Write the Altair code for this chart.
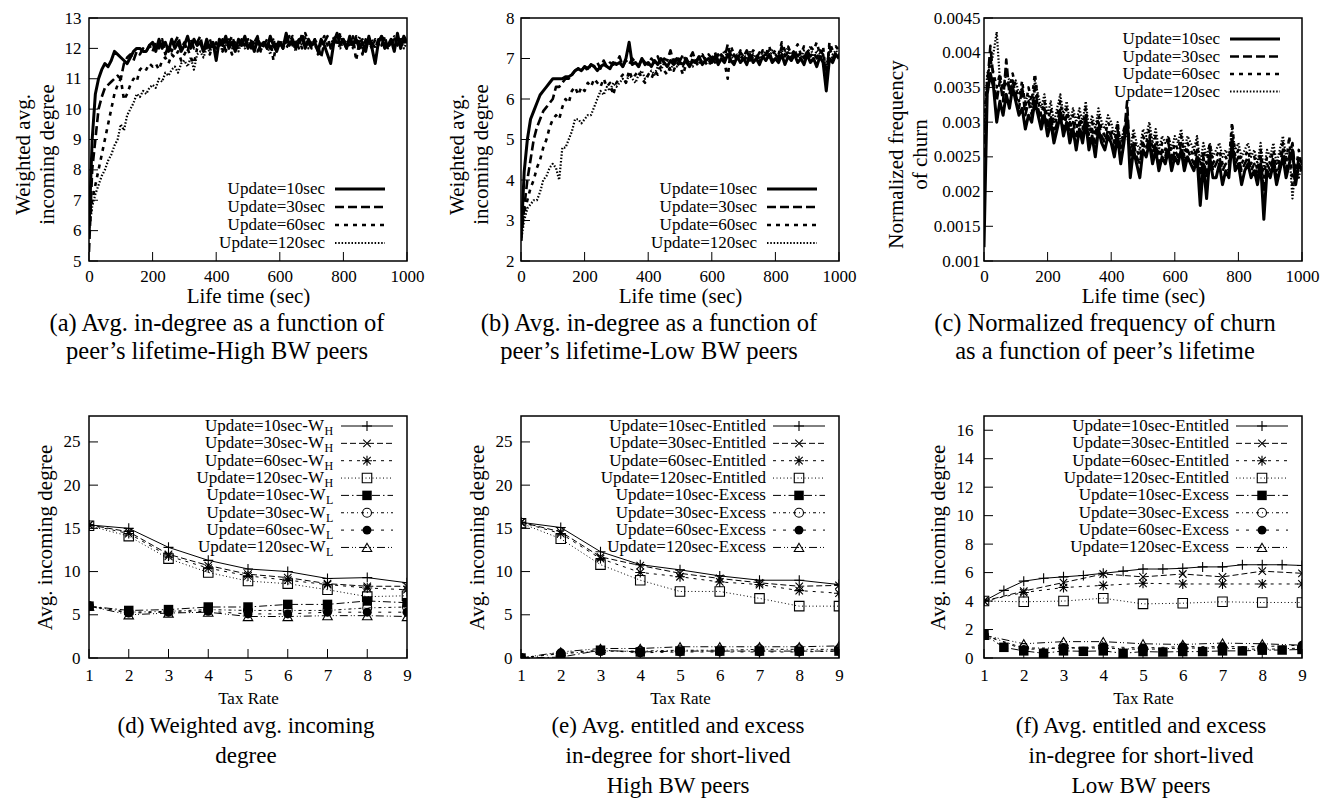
import altair as alt
import pandas as pd

FONT = "'Liberation Serif', 'Times New Roman', Times, serif"

# ---------------- data: top row (life time, step 10 s) ----------------
LIFE_T = list(range(0, 1001, 10))
TOP_NAMES = ["Update=10sec", "Update=30sec", "Update=60sec", "Update=120sec"]

A_10 = [6.0, 9.0, 10.5, 11.0, 11.3, 11.5, 11.4, 11.6, 11.9, 11.8,
        11.7, 11.6, 11.5, 11.7, 11.9, 12.0, 12.0, 11.9, 11.9, 12.1,
        12.2, 11.9, 12.3, 12.0, 12.2, 11.9, 12.3, 12.0, 12.2, 11.9,
        12.1, 12.4, 12.0, 12.3, 12.1, 12.2, 11.9, 12.3, 12.0, 12.2,
        11.6, 12.3, 12.1, 12.4, 12.0, 12.2, 11.9, 12.3, 12.1, 12.4,
        12.0, 12.2, 11.9, 12.3, 12.1, 12.2, 12.0, 12.4, 12.1, 11.9,
        12.2, 12.0, 12.5, 12.1, 12.3, 12.0, 12.2, 12.4, 12.0, 12.3,
        12.1, 12.2, 11.9, 12.3, 12.1, 11.8, 11.5, 12.2, 12.5, 12.1,
        12.3, 12.0, 12.4, 12.1, 12.3, 12.0, 12.2, 11.9, 12.4, 12.0,
        11.5, 12.2, 12.4, 12.0, 12.1, 12.3, 11.9, 12.5, 12.0, 12.4,
        12.2]
A_30 = [5.3, 8.0, 9.0, 10.0, 10.4, 10.7, 10.8, 10.9, 11.0, 11.1,
        11.0, 11.5, 11.7, 11.8, 11.6, 11.9, 11.8, 12.0, 11.9, 12.1,
        11.9, 12.2, 12.0, 12.3, 11.8, 12.1, 11.9, 12.2, 12.4, 12.0,
        12.2, 11.9, 12.3, 12.0, 12.2, 12.4, 11.9, 12.1, 12.3, 12.0,
        12.2, 12.0, 12.3, 11.9, 12.2, 12.4, 12.1, 12.0, 12.3, 12.1,
        12.3, 12.0, 12.2, 12.4, 11.9, 12.1, 12.3, 12.0, 12.2, 12.1,
        12.3, 12.0, 12.2, 12.4, 12.1, 12.3, 12.0, 12.5, 12.1, 12.2,
        12.0, 12.3, 12.1, 11.7, 12.2, 12.4, 12.0, 12.3, 12.1, 12.4,
        12.2, 12.0, 12.3, 12.1, 12.4, 12.2, 11.8, 12.3, 12.1, 12.2,
        12.0, 12.3, 12.1, 12.4, 12.0, 12.2, 12.3, 12.1, 12.4, 12.2,
        12.3]
A_60 = [6.0, 7.0, 7.5, 8.0, 8.5, 9.0, 9.5, 10.0, 10.5, 10.8,
        11.0, 10.3, 10.5, 10.8, 11.0, 10.9, 11.3, 11.4, 11.3, 11.5,
        11.4, 11.5, 11.3, 11.6, 11.7, 11.5, 11.8, 11.7, 11.9, 11.6,
        11.8, 12.0, 11.7, 11.5, 12.0, 12.2, 11.9, 12.1, 11.8, 12.2,
        12.0, 12.2, 11.9, 12.3, 12.1, 11.8, 12.2, 12.0, 12.3, 12.1,
        12.2, 12.0, 12.3, 11.9, 12.1, 12.2, 12.0, 12.3, 11.6, 12.2,
        12.1, 12.3, 12.0, 12.2, 12.4, 12.1, 12.3, 12.0, 12.5, 12.2,
        12.1, 12.3, 11.8, 12.2, 12.4, 12.1, 12.0, 12.3, 12.2, 12.5,
        12.1, 12.3, 12.0, 12.4, 11.6, 12.2, 12.3, 12.1, 12.2, 12.0,
        12.3, 12.1, 12.4, 12.2, 12.0, 12.3, 12.1, 12.4, 12.2, 12.3,
        12.1]
A_120 = [6.0, 6.8, 7.2, 7.5, 7.8, 8.0, 8.3, 8.5, 8.8, 9.0,
         9.5, 9.3, 9.8, 10.0, 10.2, 10.5, 10.4, 10.6, 10.5, 10.7,
         10.8, 10.7, 11.0, 10.9, 11.2, 11.1, 11.3, 11.4, 11.2, 11.5,
         11.6, 11.4, 11.7, 11.3, 11.8, 11.9, 11.7, 12.0, 11.9, 12.1,
         12.0, 12.2, 11.9, 12.1, 12.3, 12.0, 12.2, 11.9, 12.2, 12.0,
         12.1, 12.3, 12.0, 12.2, 11.9, 12.2, 12.1, 11.8, 12.3, 12.0,
         12.2, 12.0, 12.3, 12.1, 12.2, 11.9, 12.3, 12.1, 12.4, 12.0,
         12.2, 12.1, 11.9, 12.3, 12.0, 12.2, 12.1, 12.4, 12.2, 12.0,
         12.2, 12.1, 12.3, 12.0, 12.2, 12.4, 12.0, 12.2, 12.1, 12.3,
         12.0, 12.2, 12.1, 12.3, 12.0, 12.2, 12.4, 12.1, 12.3, 12.0,
         12.2]

B_10 = [2.5, 4.2, 5.0, 5.5, 5.7, 5.9, 6.1, 6.2, 6.3, 6.4,
        6.5, 6.5, 6.5, 6.5, 6.55, 6.55, 6.6, 6.7, 6.75, 6.7,
        6.8, 6.75, 6.85, 6.8, 6.7, 6.8, 6.85, 6.8, 6.75, 6.9,
        6.85, 6.9, 6.8, 7.0, 7.4, 6.85, 6.9, 6.8, 7.0, 6.85,
        6.9, 6.8, 6.95, 6.85, 7.0, 6.9, 6.8, 6.95, 6.85, 7.0,
        6.9, 6.85, 7.0, 6.8, 6.95, 6.9, 7.05, 6.85, 6.95, 7.0,
        6.9, 7.05, 6.85, 7.0, 6.9, 7.1, 6.95, 6.85, 7.05, 6.9,
        7.0, 6.85, 7.1, 6.9, 7.0, 6.85, 7.05, 6.95, 7.1, 6.9,
        7.0, 6.9, 7.1, 6.85, 7.05, 6.95, 7.1, 6.9, 7.0, 6.85,
        7.1, 6.9, 7.0, 6.8, 7.05, 6.9, 6.2, 7.0, 6.9, 7.1,
        7.0]
B_30 = [2.5, 3.3, 4.0, 4.5, 5.0, 5.3, 5.5, 5.7, 5.8, 5.9,
        6.0, 6.3, 6.3, 6.4, 6.5, 6.5, 6.6, 6.7, 6.75, 6.7,
        6.8, 6.7, 6.85, 6.8, 6.9, 6.75, 6.95, 6.8, 6.9, 6.85,
        6.9, 7.05, 6.8, 6.95, 6.85, 7.0, 6.9, 6.8, 7.0, 6.9,
        6.85, 7.0, 6.9, 7.05, 6.85, 7.0, 6.95, 7.2, 6.9, 7.05,
        6.95, 7.1, 6.9, 7.0, 7.15, 6.9, 7.05, 7.1, 6.95, 7.1,
        7.0, 7.15, 6.95, 7.1, 7.0, 7.35, 7.0, 7.1, 6.95, 7.15,
        7.05, 7.2, 6.95, 7.1, 7.0, 7.15, 7.05, 7.1, 7.2, 6.95,
        7.1, 7.0, 7.3, 7.05, 7.15, 7.0, 7.2, 7.05, 7.15, 7.0,
        7.2, 7.05, 7.15, 7.0, 7.2, 7.1, 6.6, 7.3, 7.0, 7.15,
        7.05]
B_60 = [2.8, 3.2, 3.5, 3.8, 4.0, 4.3, 4.5, 4.8, 5.0, 5.3,
        5.5, 5.6, 5.5, 5.8, 6.0, 5.9, 6.2, 6.3, 6.1, 6.3,
        6.2, 6.4, 6.3, 6.5, 6.4, 6.3, 6.5, 6.3, 6.4, 6.1,
        6.4, 6.5, 6.6, 6.4, 6.7, 6.5, 6.6, 6.7, 6.5, 6.4,
        6.6, 6.5, 6.7, 6.6, 6.8, 6.7, 6.6, 6.8, 6.7, 6.9,
        6.8, 6.6, 6.9, 6.8, 7.0, 6.9, 6.8, 7.0, 6.9, 6.8,
        7.0, 6.9, 7.1, 7.0, 6.9, 6.5, 7.3, 7.1, 7.0, 7.2,
        6.9, 7.1, 7.0, 7.2, 7.1, 7.0, 7.2, 7.1, 7.3, 7.1,
        7.2, 7.1, 7.4, 7.2, 7.3, 7.1, 7.2, 7.35, 7.1, 7.3,
        7.15, 7.3, 7.2, 7.4, 7.1, 7.3, 6.5, 7.4, 7.2, 7.3,
        7.2]
B_120 = [2.5, 3.0, 3.3, 3.4, 3.5, 3.5, 3.7, 4.0, 4.1, 4.3,
         4.4, 4.3, 4.0, 4.8, 4.8, 5.0, 5.2, 5.5, 5.5, 5.4,
         5.5, 5.6, 5.6, 5.8, 6.0, 6.2, 6.1, 6.3, 6.2, 6.4,
         6.3, 6.4, 6.5, 6.4, 6.6, 6.5, 6.4, 6.6, 6.7, 6.5,
         6.6, 6.7, 6.6, 6.8, 6.7, 6.9, 6.8, 6.7, 6.9, 6.8,
         6.9, 6.8, 7.0, 6.9, 6.8, 7.0, 6.9, 7.1, 7.0, 6.9,
         7.0, 7.1, 6.9, 7.0, 7.2, 7.0, 7.1, 6.9, 7.1, 7.0,
         7.1, 7.0, 7.2, 7.0, 7.1, 6.9, 7.2, 7.1, 7.0, 7.2,
         7.1, 7.0, 7.2, 7.1, 7.3, 7.0, 7.2, 7.1, 7.0, 7.2,
         7.1, 7.3, 7.0, 7.2, 7.1, 7.0, 6.8, 7.2, 7.1, 7.2,
         7.1]

C_10 = [0.0012, 0.0034, 0.0037, 0.0035, 0.0030, 0.0033, 0.0031, 0.0034, 0.0032, 0.0035,
        0.0033, 0.0031, 0.0032, 0.0029, 0.0031, 0.0030, 0.0033, 0.0031, 0.0029, 0.0031,
        0.0028, 0.0030, 0.0027, 0.0029, 0.0031, 0.0028, 0.0030, 0.0027, 0.0029, 0.0026,
        0.0029, 0.0027, 0.0030, 0.0026, 0.0028, 0.0025, 0.0029, 0.0027, 0.0026, 0.0028,
        0.0027, 0.0025, 0.0028, 0.0024, 0.0027, 0.0031, 0.0022, 0.0026, 0.0024, 0.0022,
        0.0026, 0.0025, 0.0027, 0.0024, 0.0026, 0.0023, 0.0025, 0.0024, 0.0026, 0.0023,
        0.0025, 0.0024, 0.0026, 0.0023, 0.0025, 0.0024, 0.0023, 0.0025, 0.0018, 0.0024,
        0.0019, 0.0025, 0.0022, 0.0022, 0.0024, 0.0021, 0.0023, 0.0022, 0.0027, 0.0023,
        0.0024, 0.0021, 0.0023, 0.0024, 0.0022, 0.0023, 0.0021, 0.0024, 0.0016, 0.0023,
        0.0022, 0.0024, 0.0021, 0.0023, 0.0025, 0.0022, 0.0024, 0.0026, 0.0021, 0.0024,
        0.0023]
C_30 = [0.0025, 0.0035, 0.0041, 0.0036, 0.0033, 0.0036, 0.0033, 0.0039, 0.0034, 0.0036,
        0.0034, 0.0032, 0.0035, 0.0031, 0.0033, 0.0031, 0.0035, 0.0032, 0.0030, 0.0032,
        0.0029, 0.0031, 0.0028, 0.0030, 0.0032, 0.0029, 0.0031, 0.0028, 0.0030, 0.0028,
        0.0030, 0.0028, 0.0031, 0.0027, 0.0029, 0.0027, 0.0030, 0.0028, 0.0027, 0.0029,
        0.0028, 0.0026, 0.0029, 0.0025, 0.0028, 0.0033, 0.0024, 0.0027, 0.0025, 0.0024,
        0.0027, 0.0026, 0.0028, 0.0025, 0.0027, 0.0024, 0.0026, 0.0025, 0.0027, 0.0024,
        0.0026, 0.0025, 0.0027, 0.0024, 0.0026, 0.0025, 0.0024, 0.0026, 0.0021, 0.0025,
        0.0022, 0.0026, 0.0023, 0.0024, 0.0025, 0.0023, 0.0024, 0.0023, 0.0028, 0.0024,
        0.0025, 0.0023, 0.0024, 0.0025, 0.0023, 0.0024, 0.0022, 0.0025, 0.0020, 0.0024,
        0.0023, 0.0025, 0.0022, 0.0024, 0.0026, 0.0023, 0.0025, 0.0027, 0.0022, 0.0025,
        0.0024]
C_60 = [0.0030, 0.0036, 0.0039, 0.0037, 0.0035, 0.0037, 0.0034, 0.0036, 0.0035, 0.0037,
        0.0035, 0.0033, 0.0036, 0.0032, 0.0035, 0.0033, 0.0037, 0.0033, 0.0031, 0.0033,
        0.0030, 0.0032, 0.0029, 0.0031, 0.0033, 0.0030, 0.0032, 0.0029, 0.0031, 0.0029,
        0.0031, 0.0029, 0.0032, 0.0028, 0.0030, 0.0028, 0.0031, 0.0029, 0.0028, 0.0030,
        0.0029, 0.0027, 0.0030, 0.0026, 0.0029, 0.0030, 0.0025, 0.0028, 0.0026, 0.0025,
        0.0028, 0.0027, 0.0029, 0.0026, 0.0028, 0.0025, 0.0027, 0.0026, 0.0028, 0.0025,
        0.0027, 0.0026, 0.0028, 0.0025, 0.0027, 0.0026, 0.0025, 0.0027, 0.0023, 0.0026,
        0.0024, 0.0027, 0.0024, 0.0025, 0.0026, 0.0024, 0.0025, 0.0024, 0.0030, 0.0025,
        0.0026, 0.0024, 0.0025, 0.0026, 0.0024, 0.0025, 0.0023, 0.0026, 0.0022, 0.0025,
        0.0024, 0.0026, 0.0023, 0.0025, 0.0027, 0.0024, 0.0028, 0.0021, 0.0023, 0.0026,
        0.0023]
C_120 = [0.0028, 0.0037, 0.0038, 0.0040, 0.0043, 0.0036, 0.0035, 0.0037, 0.0036, 0.0035,
         0.0036, 0.0034, 0.0035, 0.0033, 0.0034, 0.0032, 0.0036, 0.0034, 0.0032, 0.0034,
         0.0031, 0.0033, 0.0030, 0.0032, 0.0034, 0.0031, 0.0033, 0.0030, 0.0032, 0.0030,
         0.0032, 0.0030, 0.0033, 0.0029, 0.0031, 0.0029, 0.0032, 0.0030, 0.0029, 0.0031,
         0.0030, 0.0028, 0.0030, 0.0027, 0.0029, 0.0028, 0.0026, 0.0029, 0.0027, 0.0026,
         0.0029, 0.0028, 0.0030, 0.0027, 0.0029, 0.0026, 0.0028, 0.0027, 0.0028, 0.0026,
         0.0028, 0.0027, 0.0029, 0.0026, 0.0028, 0.0027, 0.0026, 0.0028, 0.0024, 0.0027,
         0.0025, 0.0027, 0.0025, 0.0026, 0.0027, 0.0025, 0.0026, 0.0025, 0.0029, 0.0026,
         0.0027, 0.0025, 0.0026, 0.0027, 0.0025, 0.0026, 0.0024, 0.0027, 0.0023, 0.0026,
         0.0025, 0.0027, 0.0024, 0.0026, 0.0028, 0.0025, 0.0026, 0.0019, 0.0024, 0.0022,
         0.0024]

# ---------------- data: bottom row (tax rate) ----------------
TAX = [1, 2, 3, 4, 5, 6, 7, 8, 9]
TAX_HALF = [1, 1.5, 2, 2.5, 3, 3.5, 4, 4.5, 5, 5.5, 6, 6.5, 7, 7.5, 8, 8.5, 9]

D_NAMES = ["Update=10sec-W", "Update=30sec-W", "Update=60sec-W", "Update=120sec-W",
           "Update=10sec-W", "Update=30sec-W", "Update=60sec-W", "Update=120sec-W"]
D_SUBS = ["H", "H", "H", "H", "L", "L", "L", "L"]
D_WH10 = [15.4, 15.0, 12.8, 11.3, 10.3, 10.0, 9.2, 9.3, 8.7]
D_WH30 = [15.4, 14.6, 12.0, 10.7, 9.7, 9.3, 8.6, 8.3, 8.3]
D_WH60 = [15.4, 14.4, 11.8, 10.4, 9.5, 9.0, 8.5, 8.1, 7.9]
D_WH120 = [15.3, 14.1, 11.5, 9.9, 8.9, 8.6, 7.9, 7.1, 7.2]
D_WL10 = [6.0, 5.5, 5.6, 5.9, 5.9, 6.2, 6.2, 6.6, 6.4]
D_WL30 = [6.0, 5.3, 5.4, 5.6, 5.5, 5.5, 5.5, 5.8, 5.9]
D_WL60 = [6.0, 5.2, 5.3, 5.4, 5.1, 5.1, 5.3, 5.3, 5.3]
D_WL120 = [6.0, 5.0, 5.2, 5.3, 4.8, 4.8, 4.9, 4.9, 4.8]

EF_NAMES = ["Update=10sec-Entitled", "Update=30sec-Entitled", "Update=60sec-Entitled",
            "Update=120sec-Entitled", "Update=10sec-Excess", "Update=30sec-Excess",
            "Update=60sec-Excess", "Update=120sec-Excess"]
E_EN10 = [15.7, 15.1, 12.3, 10.8, 10.2, 9.5, 9.0, 9.0, 8.5]
E_EN30 = [15.7, 14.6, 11.7, 10.7, 9.8, 9.2, 8.7, 8.3, 8.4]
E_EN60 = [15.7, 14.4, 11.5, 9.9, 9.4, 8.8, 8.5, 7.8, 7.5]
E_EN120 = [15.6, 13.8, 10.8, 9.0, 7.7, 7.7, 6.9, 6.0, 6.0]
E_EX10 = [0.0, 0.1, 0.9, 0.7, 0.8, 0.8, 0.8, 0.8, 0.8]
E_EX30 = [0.0, 0.5, 0.8, 0.8, 0.9, 0.9, 1.0, 1.0, 1.0]
E_EX60 = [0.0, 0.6, 0.9, 0.6, 0.7, 0.7, 0.7, 0.7, 0.8]
E_EX120 = [0.0, 0.7, 1.1, 1.1, 1.3, 1.3, 1.3, 1.3, 1.4]

F_EN10 = [4.0, 4.75, 5.4, 5.6, 5.7, 5.8, 5.95, 6.1, 6.25, 6.25, 6.3, 6.4, 6.4, 6.55, 6.55, 6.55, 6.5]
F_EN30 = [4.0, 4.7, 5.3, 5.9, 5.7, 5.9, 5.7, 6.1, 5.95]
F_EN60 = [4.0, 4.6, 4.95, 5.1, 5.25, 5.2, 5.2, 5.2, 5.2]
F_EN120 = [4.0, 3.95, 4.0, 4.2, 3.8, 3.85, 3.95, 3.9, 3.9]
F_EX10 = [1.65, 0.75, 0.5, 0.33, 0.5, 0.47, 0.5, 0.33, 0.45, 0.42, 0.45, 0.45, 0.5, 0.5, 0.55, 0.56, 0.6]
F_EX30 = [1.6, 0.7, 0.7, 0.7, 0.6, 0.7, 0.7, 0.6, 0.7]
F_EX60 = [1.6, 0.6, 0.7, 0.8, 0.7, 0.8, 0.8, 0.8, 0.9]
F_EX120 = [1.6, 1.0, 1.15, 1.15, 1.0, 0.95, 1.05, 1.0, 0.9]

CAPTIONS = {
    "a": ["(a) Avg. in-degree as a function of", "peer\u2019s lifetime-High BW peers"],
    "b": ["(b) Avg. in-degree as a function of", "peer\u2019s lifetime-Low BW peers"],
    "c": ["(c) Normalized frequency of churn", "as a function of peer\u2019s lifetime"],
    "d": ["(d) Weighted avg. incoming", "degree"],
    "e": ["(e) Avg. entitled and excess", "in-degree for short-lived", "High BW peers"],
    "f": ["(f) Avg. entitled and excess", "in-degree for short-lived", "Low BW peers"],
}

# ---------------- styles ----------------
PLUS = "M-1,0L1,0M0,-1L0,1"
CROSS = "M-0.75,-0.75L0.75,0.75M-0.75,0.75L0.75,-0.75"
STAR = PLUS + CROSS

TOP_DASH = [None, [9, 4], [4, 5], [1.5, 1.8]]
TOP_WIDTH = [3.0, 2.6, 2.6, 2.2]

BOT_DASH = [None, [6, 3], [3, 5], [1, 2.5], [8, 3, 1.5, 3], [3, 3, 1, 3], [3, 7], [8, 3, 1, 2, 1, 3]]
BOT_SHAPE = [PLUS, CROSS, STAR, "square", "square", "circle", "circle", "triangle-up"]
BOT_FILLED = [False, False, False, False, True, False, True, False]
BOT_SIZE = [100, 100, 100, 90, 90, 80, 80, 90]

ONE = pd.DataFrame({"a": [0]})

AX = dict(grid=False, domain=False, ticks=False, tickSize=0, labelFont=FONT,
          labelFontSize=17, labelColor="black", labelFlush=False, labelOverlap=False,
          labelBound=False, titleFont=FONT, titleFontSize=21, titleFontWeight="normal",
          titleColor="black")

TW, TH = 318, 243
BW, BH = 318, 242
TICK = 9


def line_layer(xs, ys, X, Y, width, dash):
    kw = dict(color="black", strokeWidth=width, clip=True, strokeJoin="round")
    if dash:
        kw["strokeDash"] = dash
    return alt.Chart(pd.DataFrame({"x": xs, "y": ys})).mark_line(**kw).encode(x=X, y=Y)


def point_layer(xs, ys, X, Y, shape, filled, size):
    return alt.Chart(pd.DataFrame({"x": xs, "y": ys})).mark_point(
        shape=shape, filled=filled, size=size, color="black", opacity=1,
        strokeWidth=1.1, clip=True).encode(x=X, y=Y)


def tick_layers(xvals, yvals, X, Y, H):
    xt = alt.Chart(pd.DataFrame({"x": xvals})).mark_rule(color="black", strokeWidth=1).encode(
        x=X, y=alt.value(H), y2=alt.value(H - TICK))
    yt = alt.Chart(pd.DataFrame({"y": yvals})).mark_rule(color="black", strokeWidth=1).encode(
        y=Y, x=alt.value(0), x2=alt.value(TICK))
    return [xt, yt]


def legend_entry(label, ry, tx, lx0, lx1, width, dash, shape=None, filled=False, size=100,
                 sub=None, fs=17):
    layers = []
    if sub:
        subw = 10 if sub == "H" else 8.5
        layers.append(alt.Chart(ONE).mark_text(
            text=label, align="right", baseline="middle", font=FONT, fontSize=fs,
            color="black").encode(x=alt.value(tx - subw), y=alt.value(ry)))
        layers.append(alt.Chart(ONE).mark_text(
            text=sub, align="left", baseline="middle", font=FONT, fontSize=12,
            color="black").encode(x=alt.value(tx - subw + 0.5), y=alt.value(ry + 5)))
    else:
        layers.append(alt.Chart(ONE).mark_text(
            text=label, align="right", baseline="middle", font=FONT, fontSize=fs,
            color="black").encode(x=alt.value(tx), y=alt.value(ry)))
    kw = dict(color="black", strokeWidth=width)
    if dash:
        kw["strokeDash"] = dash
    layers.append(alt.Chart(ONE).mark_rule(**kw).encode(
        x=alt.value(lx0), x2=alt.value(lx1), y=alt.value(ry)))
    if shape:
        layers.append(alt.Chart(ONE).mark_point(
            shape=shape, filled=filled, size=size, color="black", opacity=1,
            strokeWidth=1.1).encode(x=alt.value((lx0 + lx1) / 2), y=alt.value(ry)))
    return layers


def caption(key, fs, lh, dx, offset):
    return alt.TitleParams(text=CAPTIONS[key], orient="bottom", anchor="middle", font=FONT,
                           fontSize=fs, fontWeight="normal", color="black", lineHeight=lh,
                           offset=offset, dx=dx)


def top_panel(key, series, ydom, yvals, yfmt, ytitle, rows, ylp, ytp, cdx):
    X = alt.X("x:Q", scale=alt.Scale(domain=[0, 1000], nice=False, zero=False),
              axis=alt.Axis(values=[0, 200, 400, 600, 800, 1000], format="d",
                            title="Life time (sec)", labelPadding=7, titlePadding=1, **AX))
    Y = alt.Y("y:Q", scale=alt.Scale(domain=ydom, nice=False, zero=False),
              axis=alt.Axis(values=yvals, format=yfmt, title=ytitle, labelPadding=ylp,
                            titlePadding=ytp, titleLineHeight=24, titleY=136, **AX))
    layers = []
    for i, ys in enumerate(series):
        layers.append(line_layer(LIFE_T, ys, X, Y, TOP_WIDTH[i], TOP_DASH[i]))
    layers += tick_layers([0, 200, 400, 600, 800, 1000], yvals, X, Y, TH)
    for i, name in enumerate(TOP_NAMES):
        layers += legend_entry(name, rows[i], 236, 246, 296, TOP_WIDTH[i], TOP_DASH[i])
    return alt.layer(*layers).properties(width=TW, height=TH,
                                         title=caption(key, 24.5, 28, cdx, 6))


def bottom_panel(key, series, names, subs, ydom, yvals, ylp):
    X = alt.X("x:Q", scale=alt.Scale(domain=[1, 9], nice=False, zero=False),
              axis=alt.Axis(values=TAX, format="d", title="Tax Rate", labelPadding=9,
                            titlePadding=7, **{**AX, "titleFontSize": 17}))
    Y = alt.Y("y:Q", scale=alt.Scale(domain=ydom, nice=False, zero=False),
              axis=alt.Axis(values=yvals, format="d", title="Avg. incoming degree",
                            labelPadding=ylp, titlePadding=8, **AX))
    layers = []
    for i, (xs, ys) in enumerate(series):
        layers.append(line_layer(xs, ys, X, Y, 1, BOT_DASH[i]))
    for i, (xs, ys) in enumerate(series):
        layers.append(point_layer(xs, ys, X, Y, BOT_SHAPE[i], BOT_FILLED[i], BOT_SIZE[i]))
    layers += tick_layers(TAX, yvals, X, Y, BH)
    for i, name in enumerate(names):
        layers += legend_entry(name, 10 + 17.35 * i, 245, 252, 304, 1, BOT_DASH[i],
                               BOT_SHAPE[i], BOT_FILLED[i], BOT_SIZE[i],
                               sub=subs[i] if subs else None)
    return alt.layer(*layers).properties(width=BW, height=BH,
                                         title=caption(key, 23, 30, -2, 9))


ROWS_AB = [171, 189, 207, 225]
ROWS_C = [21, 38.5, 56, 73.5]

pa = top_panel("a", [A_10, A_30, A_60, A_120], [5, 13], list(range(5, 14)), "d",
               ["Weighted avg.", "incoming degree"], ROWS_AB, 8, 7, -31)
pb = top_panel("b", [B_10, B_30, B_60, B_120], [2, 8], list(range(2, 9)), "d",
               ["Weighted avg.", "incoming degree"], ROWS_AB, 7, 14, -31)
C_TICKS = [0.001, 0.0015, 0.002, 0.0025, 0.003, 0.0035, 0.004, 0.0045]
pc = top_panel("c", [C_10, C_30, C_60, C_120], [0.001, 0.0045], C_TICKS, ".4~f",
               ["Normalized frequency", "of churn"], ROWS_C, 4, 3, -38)

pdd = bottom_panel("d", [(TAX, D_WH10), (TAX, D_WH30), (TAX, D_WH60), (TAX, D_WH120),
                         (TAX, D_WL10), (TAX, D_WL30), (TAX, D_WL60), (TAX, D_WL120)],
                   D_NAMES, D_SUBS, [0, 28], [0, 5, 10, 15, 20, 25], 9)
pe = bottom_panel("e", [(TAX, E_EN10), (TAX, E_EN30), (TAX, E_EN60), (TAX, E_EN120),
                        (TAX, E_EX10), (TAX, E_EX30), (TAX, E_EX60), (TAX, E_EX120)],
                  EF_NAMES, None, [0, 28], [0, 5, 10, 15, 20, 25], 9)
pf = bottom_panel("f", [(TAX_HALF, F_EN10), (TAX, F_EN30), (TAX, F_EN60), (TAX, F_EN120),
                        (TAX_HALF, F_EX10), (TAX, F_EX30), (TAX, F_EX60), (TAX, F_EX120)],
                  EF_NAMES, None, [0, 17], [0, 2, 4, 6, 8, 10, 12, 14, 16], 11)


def spacer(w):
    return alt.Chart(ONE).mark_point(opacity=0).encode(
        x=alt.value(0), y=alt.value(0)).properties(
        width=w, height=10, view=alt.ViewBackground(stroke="transparent"))


chart = alt.concat(
    pa, spacer(114), pb, spacer(145), pc,
    pdd, spacer(114), pe, spacer(145), pf,
    columns=5, spacing={"row": 155, "column": 0}, bounds="flush",
).properties(
    padding={"left": 3, "top": 0, "right": 5, "bottom": 5}, background="white"
).configure_view(stroke="black", strokeWidth=1.5)

chart.save("out.html", embed_options={"renderer": "svg", "actions": False})
